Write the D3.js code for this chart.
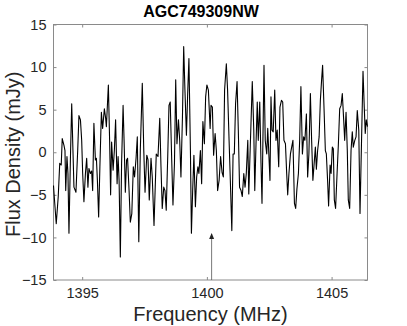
<!DOCTYPE html>
<html>
<head>
<meta charset="utf-8">
<script src="https://cdn.jsdelivr.net/npm/d3@7"></script>
<style>
  body { margin: 0; background: #fff; }
  text { font-family: "Liberation Sans", Arial, Helvetica, sans-serif; }
</style>
</head>
<body>
<svg id="chart"></svg>
<script>
const W = 407;
const H = 326;

const title = "AGC749309NW";
const xLabel = "Frequency (MHz)";
const yLabel = "Flux Density (mJy)";
const xTicks = [1395, 1400, 1405];
const yTicks = [-15, -10, -5, 0, 5, 10, 15];
const arrowFreq = 1400.19;
const arrowFlux = -9.6;

// spectrum
const freq = [
	1393.85, 1393.88, 1393.96, 1394.04, 1394.10, 1394.16, 1394.20, 1394.27, 1394.31, 1394.34,
	1394.39, 1394.43, 1394.47, 1394.53, 1394.58, 1394.63, 1394.67, 1394.75, 1394.82, 1394.87,
	1394.93, 1394.98, 1395.02, 1395.07, 1395.13, 1395.18, 1395.23, 1395.27, 1395.33, 1395.38,
	1395.42, 1395.47, 1395.53, 1395.57, 1395.61, 1395.66, 1395.71, 1395.77, 1395.82, 1395.89,
	1395.94, 1395.97, 1396.05, 1396.10, 1396.14, 1396.18, 1396.24, 1396.29, 1396.34, 1396.40,
	1396.44, 1396.48, 1396.53, 1396.58, 1396.64, 1396.68, 1396.73, 1396.78, 1396.82, 1396.88,
	1396.93, 1396.99, 1397.05, 1397.10, 1397.16, 1397.21, 1397.27, 1397.33, 1397.41, 1397.47,
	1397.52, 1397.59, 1397.64, 1397.69, 1397.76, 1397.81, 1397.88, 1397.92, 1397.97, 1398.04,
	1398.11, 1398.16, 1398.21, 1398.27, 1398.32, 1398.37, 1398.43, 1398.48, 1398.53, 1398.59,
	1398.64, 1398.70, 1398.75, 1398.80, 1398.86, 1398.91, 1398.96, 1399.02, 1399.07, 1399.12,
	1399.18, 1399.23, 1399.28, 1399.34, 1399.38, 1399.43, 1399.48, 1399.54, 1399.59, 1399.64,
	1399.68, 1399.74, 1399.79, 1399.84, 1399.90, 1399.95, 1400.00, 1400.06, 1400.13, 1400.165,
	1400.22, 1400.27, 1400.33, 1400.38, 1400.43, 1400.49, 1400.55, 1400.61, 1400.66, 1400.71,
	1400.78, 1400.83, 1400.89, 1400.94, 1401.00, 1401.05, 1401.10, 1401.15, 1401.21, 1401.26,
	1401.31, 1401.37, 1401.42, 1401.48, 1401.53, 1401.58, 1401.64, 1401.68, 1401.73, 1401.78,
	1401.82, 1401.88, 1401.92, 1401.97, 1402.02, 1402.06, 1402.12, 1402.17, 1402.21, 1402.29,
	1402.34, 1402.40, 1402.44, 1402.53, 1402.57, 1402.61, 1402.66, 1402.72, 1402.77, 1402.82,
	1402.88, 1402.93, 1402.99, 1403.04, 1403.09, 1403.15, 1403.20, 1403.24, 1403.29, 1403.35,
	1403.40, 1403.45, 1403.51, 1403.56, 1403.61, 1403.67, 1403.72, 1403.77, 1403.83, 1403.88,
	1403.93, 1403.99, 1404.04, 1404.09, 1404.15, 1404.20, 1404.25, 1404.35, 1404.39, 1404.44,
	1404.50, 1404.55, 1404.60, 1404.64, 1404.70, 1404.75, 1404.79, 1404.84, 1404.88, 1404.94,
	1404.98, 1405.03, 1405.07, 1405.11, 1405.16, 1405.22, 1405.27, 1405.325, 1405.38, 1405.43,
	1405.485, 1405.525, 1405.58, 1405.63, 1405.67, 1405.725, 1405.78, 1405.83, 1405.87, 1405.93,
	1405.98, 1406.03, 1406.09, 1406.14, 1406.21, 1406.26, 1406.31, 1406.35, 1406.39, 1406.44
];
const flux = [
	-3.9, -5.2, -8.4, -5.2, -1.3, -1.5, 1.6, 0.8, 0.2, -4.5,
	-0.5, -2.5, -9.5, -0.5, 5.7, 0.2, -4.1, -4.7, 0.2, 4.3,
	3.8, 1.4, -2.5, -5.8, -2.5, -0.7, -4.1, -1.9, -2.5, -2.2,
	-4.5, 3.4, -0.9, -0.7, -3.3, -7.6, -1.7, 4.7, 2.8, 5.1,
	4.0, 3.0, 7.9, 1.4, -5.0, 1.2, -2.1, 0.2, 3.8, -3.7,
	-0.5, -3.3, -12.3, -1.3, 5.5, 1.4, -4.7, -0.9, -0.7, -4.5,
	-8.2, -7.2, -1.7, -2.9, -0.7, 1.8, -10.5, 0.2, 8.1, 0.2,
	-4.7, -0.35, -0.9, -5.6, -0.7, -2.9, -8.6, -4.9, -0.2, -0.5,
	4.0, -1.7, -6.6, -4.1, -4.5, -6.8, -0.5, 5.5, 5.9, -0.9,
	-6.2, -1.3, 8.5, 1.0, 3.8, 1.4, -2.9, 4.1, 12.4, 7.3,
	2.0, 6.9, 11.0, 0.2, -9.5, -4.5, -0.35, -6.4, -2.9, -1.7,
	-2.5, 0.2, -3.7, 3.6, 1.0, 6.5, 7.9, 7.3, 2.8, 5.5,
	5.3, -0.35, 2.2, 0.2, -4.5, -3.3, -0.5, -2.4, -2.9, 7.3,
	10.4, 7.3, 1.4, -3.3, -9.2, -0.2, -0.2, 5.7, 8.3, 2.6,
	-4.1, -4.5, -5.2, -2.5, -4.1, -2.5, 1.4, -4.9, -0.2, 4.5,
	8.3, 2.6, -4.5, 1.0, 5.9, 1.4, 5.9, -1.3, -6.0, 10.2,
	1.4, -0.2, 2.8, -3.3, 6.5, 2.6, 2.4, 7.3, 1.4, 2.6,
	-1.7, 5.3, 6.1, 5.9, 1.4, 1.0, -2.5, -5.0, -2.5, -0.2,
	0.6, 1.4, -6.0, -6.6, -4.3, -2.5, 1.4, 7.7, -0.2, 1.8,
	1.4, 4.5, -2.9, -0.2, 6.9, 1.4, -3.3, 0.6, -2.0, 0.2,
	1.8, 6.1, 8.5, 10.2, 4.9, 0.2, -0.2, -3.3, -6.3, -1.5,
	-2.5, 0.6, 0.4, -5.6, -6.6, -2.5, 0.8, 5.1, 5.5, 6.9,
	3.8, 1.4, 4.7, 0.2, -5.6, -6.6, 0.2, 2.4, 0.6, 1.4,
	1.8, 4.9, 2.6, -7.2, 2.6, 9.5, 5.3, 2.2, 3.8, 3.0
];

const margin = { top: 24.5, right: 39.5, bottom: 46, left: 53.5 };
const axisGray = "#8a8a8a";
const textColor = "#262626";

let svg = d3.select("#chart").attr("width", W).attr("height", H);

let x = d3.scaleLinear().domain([1393.85, 1406.44]).range([margin.left, W - margin.right]);
let y = d3.scaleLinear().domain([-15, 15]).range([H - margin.bottom, margin.top]);

// axes box
svg.append("rect")
	.attr("x", x.range()[0]).attr("y", y.range()[1])
	.attr("width", x.range()[1] - x.range()[0])
	.attr("height", y.range()[0] - y.range()[1])
	.attr("fill", "none").attr("stroke", axisGray).attr("stroke-width", 1);

svg.append("g")
	.attr("transform", `translate(0,${y.range()[0]})`)
	.call(d3.axisBottom(x).tickValues(xTicks).tickSizeInner(-3).tickSizeOuter(0).tickPadding(8).tickFormat(d3.format("d")));
svg.append("g")
	.attr("transform", `translate(0,${y.range()[1]})`)
	.call(d3.axisTop(x).tickValues(xTicks).tickSizeInner(-3).tickSizeOuter(0).tickFormat(""));
svg.append("g")
	.attr("transform", `translate(${x.range()[0]},0)`)
	.call(d3.axisLeft(y).tickValues(yTicks).tickSizeInner(-3).tickSizeOuter(0).tickPadding(7));
svg.append("g")
	.attr("transform", `translate(${x.range()[1]},0)`)
	.call(d3.axisRight(y).tickValues(yTicks).tickSizeInner(-3).tickSizeOuter(0).tickFormat(""));

svg.selectAll(".domain").remove();
svg.selectAll(".tick line").attr("stroke", axisGray);
svg.selectAll(".tick text")
	.attr("fill", textColor)
	.style("font-size", "14.5px")
	.style("font-family", "'Liberation Sans', Arial, sans-serif");

// spectrum
let pts = freq.map((f, i) => [f, flux[i]]);
svg.append("path")
	.datum(pts)
	.attr("d", d3.line().x(d => x(d[0])).y(d => y(d[1])))
	.attr("fill", "none")
	.attr("stroke", "#000")
	.attr("stroke-width", 1.1)
	.attr("stroke-linejoin", "round");

// arrow marking the expected frequency
let ax = x(arrowFreq), ay = y(arrowFlux);
svg.append("line")
	.attr("x1", ax).attr("x2", ax)
	.attr("y1", y.range()[0]).attr("y2", ay)
	.attr("stroke", "#555").attr("stroke-width", 0.8);
svg.append("path")
	.attr("d", `M${ax},${ay - 1} L${ax - 2.5},${ay + 5} L${ax + 2.5},${ay + 5} Z`)
	.attr("fill", "#222");

// labels
svg.append("text")
	.attr("x", 201).attr("y", 17)
	.attr("text-anchor", "middle")
	.attr("font-weight", "bold")
	.attr("font-size", 16)
	.attr("fill", "#000")
	.text(title);

svg.append("text")
	.attr("x", (x.range()[0] + x.range()[1]) / 2).attr("y", 321)
	.attr("text-anchor", "middle")
	.attr("font-size", 20)
	.attr("fill", textColor)
	.text(xLabel);

svg.append("text")
	.attr("transform", `translate(20,${(y.range()[0] + y.range()[1]) / 2 + 2}) rotate(-90)`)
	.attr("text-anchor", "middle")
	.attr("font-size", 20)
	.attr("fill", textColor)
	.text(yLabel);
</script>
</body>
</html>
